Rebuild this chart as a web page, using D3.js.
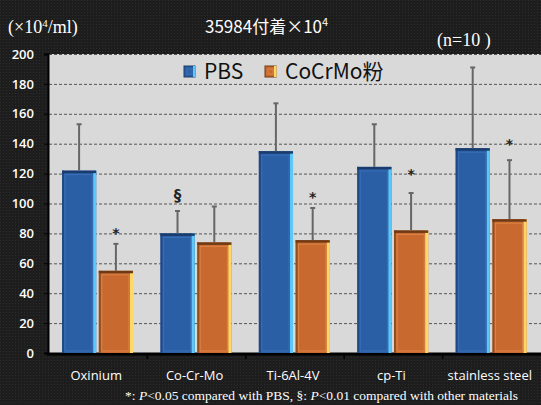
<!DOCTYPE html>
<html>
<head>
<meta charset="utf-8">
<script src="https://cdn.jsdelivr.net/npm/d3@7"></script>
<style>
  html, body { margin: 0; padding: 0; background: #1c1c1c; }
  svg { display: block; }
</style>
</head>
<body>
<div id="chart"></div>
<script>
const W = 541, H = 405
const PLOT = { left: 49, right: 541, top: 54, bottom: 353 }

// data
const categories = ['Oxinium', 'Co-Cr-Mo', 'Ti-6Al-4V', 'cp-Ti', 'stainless steel']
const seriesNames = ['PBS', 'CoCrMo粉']
const pbsValues = [122, 80, 135, 124.5, 137]
const pbsSD = [31, 15, 32, 28.5, 54]
const cocrValues = [55, 74, 75.5, 82, 89.5]
const cocrSD = [18, 24, 21.5, 25, 39.5]
const yTicks = [0, 20, 40, 60, 80, 100, 120, 140, 160, 180, 200]
const sigMarks = [
  { cat: 'Oxinium', series: 'CoCrMo粉', mark: '*', gap: 14 },
  { cat: 'Co-Cr-Mo', series: 'PBS', mark: '§', gap: 16 },
  { cat: 'Ti-6Al-4V', series: 'CoCrMo粉', mark: '*', gap: 14 },
  { cat: 'cp-Ti', series: 'CoCrMo粉', mark: '*', gap: 22 },
  { cat: 'stainless steel', series: 'CoCrMo粉', mark: '*', gap: 19 }
]

const palette = {
  'PBS': { main: '#2a5ea5', dark: '#1a3c6c', inner: '#3a70b8', light: '#5cc8f7' },
  'CoCrMo粉': { main: '#c8692f', dark: '#6e3a16', inner: '#dc8446', light: '#ffd866' }
}

const rows = []
categories.forEach((c, i) => {
  rows.push({ cat: c, series: 'PBS', value: pbsValues[i], sd: pbsSD[i] })
  rows.push({ cat: c, series: 'CoCrMo粉', value: cocrValues[i], sd: cocrSD[i] })
})

// ── Scales ───────────────────────────────────────────────────────────────
const x0 = d3.scaleBand().domain(categories).range([PLOT.left, PLOT.right]).padding(0)
const x1 = d3.scaleBand().domain(seriesNames).range([13, 84]).paddingInner(0.07)
const y = d3.scaleLinear().domain([0, 200]).range([PLOT.bottom, PLOT.top])
const bx = d => x0(d.cat) + x1(d.series)

const svg = d3.select('#chart').append('svg').attr('width', W).attr('height', H)

// background texture
const defs = svg.append('defs')
const pat = defs.append('pattern').attr('id', 'dots').attr('width', 3).attr('height', 3).attr('patternUnits', 'userSpaceOnUse')
pat.append('rect').attr('width', 3).attr('height', 3).attr('fill', '#1d1d1d')
pat.append('rect').attr('width', 1).attr('height', 1).attr('fill', '#2c2c2c')
svg.append('rect').attr('width', W).attr('height', H).attr('fill', 'url(#dots)')

// plot area
svg.append('rect')
  .attr('x', PLOT.left).attr('y', PLOT.top)
  .attr('width', PLOT.right - PLOT.left).attr('height', PLOT.bottom - PLOT.top)
  .attr('fill', '#d9d9d9')

// gridlines
svg.append('g').selectAll('line')
  .data(yTicks.filter(t => t > 0))
  .join('line')
  .attr('x1', PLOT.left).attr('x2', PLOT.right)
  .attr('y1', d => y(d) + 0.5).attr('y2', d => y(d) + 0.5)
  .attr('stroke', '#555').attr('stroke-width', 1).attr('stroke-dasharray', '3,2')

// ── Axes ─────────────────────────────────────────────────────────────────
const yAxis = svg.append('g')
  .attr('transform', `translate(${PLOT.left - 1},0)`)
  .call(d3.axisLeft(y).tickValues(yTicks).tickSize(4).tickPadding(10))
yAxis.select('.domain').attr('stroke', '#000').attr('stroke-width', 2)
yAxis.selectAll('.tick line').attr('stroke', '#000')
yAxis.selectAll('.tick text')
  .attr('fill', '#fff').attr('font-family', '"Open Sans", sans-serif')
  .attr('font-size', 13).attr('font-weight', 600)

const boundaries = categories.slice(1).map(c => x0(c))
svg.append('line')
  .attr('x1', PLOT.left - 2).attr('x2', PLOT.right)
  .attr('y1', PLOT.bottom + 1).attr('y2', PLOT.bottom + 1)
  .attr('stroke', '#000').attr('stroke-width', 3)
svg.append('g').selectAll('line')
  .data(boundaries)
  .join('line')
  .attr('x1', d => d).attr('x2', d => d)
  .attr('y1', PLOT.bottom).attr('y2', PLOT.bottom + 6)
  .attr('stroke', '#000').attr('stroke-width', 1.5)

svg.append('g').selectAll('text')
  .data(categories)
  .join('text')
  .attr('x', d => x0(d) + x0.bandwidth() / 2 - 2)
  .attr('y', 380)
  .attr('text-anchor', 'middle')
  .attr('fill', '#fff')
  .attr('font-family', '"Open Sans", sans-serif')
  .attr('font-size', 13)
  .text(d => d)

// ── Bars ─────────────────────────────────────────────────────────────────
const bw = x1.bandwidth()
const bars = svg.append('g').selectAll('g')
  .data(rows)
  .join('g')
  .attr('transform', d => `translate(${bx(d)},${y(d.value)})`)

bars.append('rect')
  .attr('width', bw).attr('height', d => y(0) - y(d.value))
  .attr('fill', d => palette[d.series].main)
bars.append('rect')
  .attr('x', 3).attr('y', 4)
  .attr('width', bw - 7).attr('height', d => y(0) - y(d.value) - 6)
  .attr('fill', 'none')
  .attr('stroke', d => palette[d.series].inner).attr('stroke-width', 1)
bars.append('rect')
  .attr('width', 2).attr('height', d => y(0) - y(d.value))
  .attr('fill', d => palette[d.series].dark).attr('opacity', 0.6)
bars.append('rect')
  .attr('x', bw - 3).attr('width', 3).attr('height', d => y(0) - y(d.value))
  .attr('fill', d => palette[d.series].light)
bars.append('rect')
  .attr('width', bw).attr('height', 2.5)
  .attr('fill', d => palette[d.series].dark)

// error bars
const err = svg.append('g').selectAll('g')
  .data(rows)
  .join('g')
  .attr('transform', d => `translate(${bx(d) + bw / 2},0)`)
err.append('line')
  .attr('y1', d => y(d.value)).attr('y2', d => y(d.value + d.sd))
  .attr('stroke', '#666').attr('stroke-width', 2)
err.append('line')
  .attr('x1', -2.5).attr('x2', 2.5)
  .attr('y1', d => y(d.value + d.sd)).attr('y2', d => y(d.value + d.sd))
  .attr('stroke', '#666').attr('stroke-width', 2)

// significance marks
svg.append('g').selectAll('text')
  .data(sigMarks)
  .join('text')
  .attr('x', d => x0(d.cat) + x1(d.series) + bw / 2)
  .attr('y', d => {
    const r = rows.find(o => o.cat === d.cat && o.series === d.series)
    return y(r.value + r.sd) - d.gap + (d.mark === '§' ? 6 : 8)
  })
  .attr('text-anchor', 'middle')
  .attr('fill', '#222')
  .attr('font-family', '"DejaVu Sans", sans-serif')
  .attr('font-size', d => d.mark === '§' ? 15 : 14)
  .attr('font-weight', 'bold')
  .text(d => d.mark)

// ── Legend ───────────────────────────────────────────────────────────────
const legend = svg.append('g').attr('transform', 'translate(184,66)')
const legendOffsets = [0, 81]
seriesNames.forEach((s, i) => {
  const g = legend.append('g').attr('transform', `translate(${legendOffsets[i]},0)`)
  g.append('rect').attr('width', 11).attr('height', 11).attr('fill', palette[s].main)
    .attr('stroke', palette[s].dark).attr('stroke-width', 1)
  g.append('rect').attr('x', 3).attr('y', 3).attr('width', 5).attr('height', 5)
    .attr('fill', 'none').attr('stroke', palette[s].inner)
  g.append('rect').attr('x', 9).attr('width', 2.5).attr('height', 11).attr('fill', palette[s].light)
  g.append('text').attr('x', 20).attr('y', 13)
    .attr('fill', '#111')
    .attr('font-family', '"Noto Sans CJK JP", sans-serif')
    .attr('font-size', 21)
    .text(s)
})

// ── Titles & notes ───────────────────────────────────────────────────────
svg.append('text')
  .attr('x', 8).attr('y', 33)
  .attr('fill', '#fff').attr('font-family', '"Liberation Serif", serif').attr('font-size', 18)
  .html('(×10<tspan dy="-6" font-size="11">4</tspan><tspan dy="6">/ml)</tspan>')

svg.append('text')
  .attr('x', 205).attr('y', 33)
  .attr('fill', '#fff').attr('font-family', '"Noto Sans CJK JP", sans-serif').attr('font-size', 17)
  .html('35984付着×10<tspan dy="-7" font-size="11">4</tspan>')

svg.append('text')
  .attr('x', 437).attr('y', 46)
  .attr('fill', '#fff').attr('font-family', '"Liberation Serif", serif').attr('font-size', 18)
  .text('(n=10 )')

svg.append('text')
  .attr('x', 125).attr('y', 400)
  .attr('fill', '#fff').attr('font-family', '"Liberation Serif", serif').attr('font-size', 12)
  .attr('textLength', 393).attr('lengthAdjust', 'spacingAndGlyphs')
  .html('*: <tspan font-style="italic">P</tspan>&lt;0.05 compared with PBS, §: <tspan font-style="italic">P</tspan>&lt;0.01 compared with other materials')
</script>
</body>
</html>
